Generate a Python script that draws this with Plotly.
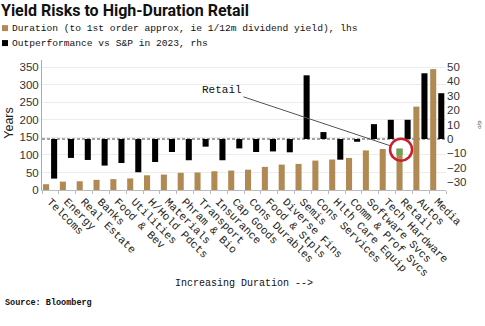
import plotly.graph_objects as go

categories = ["Telcoms", "Energy", "Real Estate", "Banks", "Food & Bev", "Utilities",
              "H/Hold Pdcts", "Materials", "Phram & Bio", "Transport", "Insurance",
              "Cap Goods", "Cons Durables", "Food & Stpls", "Diverse Fins", "Semis",
              "Cons Services", "Hlth Care Equip", "Comm & Prof Svcs", "Software Svcs",
              "Tech Hardware", "Retail", "Autos", "Media"]
duration_years = [16.5, 24, 25, 29, 31, 33, 42, 44, 49, 50, 53.5, 55.5, 58, 66, 72.5,
                  74.5, 84, 87, 91.5, 113, 117, 118, 238, 345]
outperf_2023 = [-27.4, -13.1, -14.5, -18.4, -16.6, -23, -15.9, -9, -14.7, -5.3, -14.7,
                -6.5, -9, -8.6, -9.2, 44.1, 4.8, -14.3, -1.9, 10.3, 13.3, 13.3, 45.5, 31.7]
left_ticks = [0, 50, 100, 150, 200, 250, 300, 350]
right_ticks = [-30, -20, -10, 0, 10, 20, 30, 40, 50]

W, H = 485, 326
ML, MR, MT, MB = 42, 39, 60, 135.5
PW, PH = W - ML - MR, H - MT - MB


def px(x):
    return (x - ML) / PW


def py(y):
    return (H - MB - y) / PH


BROWN = "#b08a52"
MONO = "Liberation Mono"
SANS = "Liberation Sans"
BAR_W = 0.36

fig = go.Figure()
fig.add_bar(x=categories, y=duration_years, marker_color=BROWN, marker_line_width=0,
            width=BAR_W, offset=-0.44, yaxis="y", name="Duration")
fig.add_bar(x=categories, y=outperf_2023, marker_color="black", marker_line_width=0,
            width=BAR_W, offset=0.04, yaxis="y2", name="Outperformance")

ri = categories.index("Retail")
r_dur = duration_years[ri]
bx = ri - 0.44 + BAR_W / 2

shapes = [
    dict(type="line", xref="paper", yref="y2", x0=0, x1=1, y0=0, y1=0,
         line=dict(color="#444", width=1, dash="3px,2px"), layer="below"),
    # green highlight on top of Retail duration bar
    dict(type="rect", xref="x", yref="y", x0=ri - 0.44, x1=ri - 0.44 + BAR_W,
         y0=r_dur - 17, y1=r_dur, fillcolor="#5fa85a", line_width=0),
    # red circle around Retail
    dict(type="circle", xref="x", yref="y",
         x0=bx + 0.09 - 11 / (PW / 24), x1=bx + 0.09 + 11 / (PW / 24),
         y0=r_dur - 3 - 11 / (PH / 371), y1=r_dur - 3 + 11 / (PH / 371),
         line=dict(color="#c8202e", width=2.5)),
    # legend squares
    dict(type="rect", xref="paper", yref="paper", x0=px(2), x1=px(8), y0=py(31), y1=py(25),
         fillcolor=BROWN, line_width=0),
    dict(type="rect", xref="paper", yref="paper", x0=px(2), x1=px(8), y0=py(46), y1=py(40),
         fillcolor="black", line_width=0),
]

annotations = [
    dict(x=ri - 0.83, y=-4.6, xref="x", yref="y2", text="Retail", showarrow=True,
         arrowhead=0, arrowwidth=1, arrowcolor="#555", ax=-168, ay=-56,
         font=dict(family=MONO, size=11, color="#111")),
    dict(x=px(10), y=py(28), xref="paper", yref="paper", xanchor="left", yanchor="middle",
         showarrow=False, text="Duration (to 1st order approx, ie 1/12m dividend yield), lhs",
         font=dict(family=MONO, size=9.6, color="#111")),
    dict(x=px(10), y=py(43), xref="paper", yref="paper", xanchor="left", yanchor="middle",
         showarrow=False, text="Outperformance vs S&P in 2023, rhs",
         font=dict(family=MONO, size=9.6, color="#111")),
    dict(x=px(9), y=py(123), xref="paper", yref="paper", xanchor="center", yanchor="middle",
         textangle=-90, showarrow=False,
         text="Years", font=dict(family=SANS, size=12.5, color="#222")),
    dict(x=px(479), y=py(125), xref="paper", yref="paper", xanchor="center", yanchor="middle",
         textangle=-90, showarrow=False,
         text="o/p", font=dict(family=SANS, size=6, color="#444")),
    dict(x=px(244), y=py(292), xref="paper", yref="paper", xanchor="center", showarrow=False,
         text="Increasing Duration -->", font=dict(family=MONO, size=10, color="#111")),
    dict(x=px(3), y=py(311), xref="paper", yref="paper", xanchor="left", showarrow=False,
         text="<b>Source: Bloomberg</b>", font=dict(family=MONO, size=8.5, color="#111")),
]

fig.update_layout(
    width=W, height=H, margin=dict(l=ML, r=MR, t=MT, b=MB, autoexpand=False),
    paper_bgcolor="white", plot_bgcolor="white", showlegend=False, barmode="overlay",
    title=dict(text="<b>Yield Risks to High-Duration Retail</b>", x=0.002, xanchor="left",
               xref="container", y=1 - 10 / H, yanchor="middle", yref="container",
               font=dict(family="Roboto", size=16, color="#111")),
    xaxis=dict(type="category", range=[-0.5, 23.5], tickangle=45,
               tickfont=dict(family=MONO, size=11, color="#222"), showline=True,
               linecolor="#bbb", ticks="outside", tickson="boundaries", ticklen=3,
               tickcolor="#bbb", showgrid=False, fixedrange=True),
    yaxis=dict(range=[0, 371], tickvals=left_ticks, gridcolor="#ececec", showline=True,
               linecolor="#aaa", zeroline=False,
               tickfont=dict(family=SANS, size=11.5, color="#333")),
    yaxis2=dict(range=[-35.3, 54.7], tickvals=right_ticks, overlaying="y", side="right",
                showgrid=False, zeroline=False, showline=False,
                tickfont=dict(family=SANS, size=11.5, color="#333")),
    shapes=shapes, annotations=annotations,
)

fig.write_html("out.html")
